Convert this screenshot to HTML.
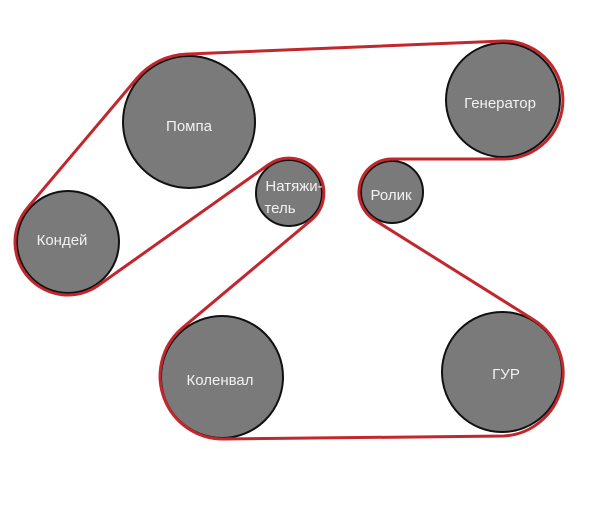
<!DOCTYPE html>
<html><head><meta charset="utf-8"><style>
html,body{margin:0;padding:0;background:#fff;}
svg{display:block;}
text{font-family:"Liberation Sans","DejaVu Sans",sans-serif;font-size:15px;fill:#f2f2f2;text-anchor:middle;}
</style></head><body>
<svg width="600" height="513" viewBox="0 0 600 513">
<g fill="#7a7a7a" stroke="#111" stroke-width="2">
<circle cx="189" cy="122" r="66"/>
<circle cx="503" cy="100" r="57"/>
<circle cx="68" cy="242" r="51"/>
<circle cx="289" cy="193" r="33"/>
<circle cx="392" cy="192" r="31"/>
<circle cx="222" cy="377" r="61"/>
<circle cx="502" cy="372" r="60"/>
</g>
<path d="M186.2,54.1 L500.6,41.1 A59 59 0 1 1 503,159 L392,159 A33 33 0 0 0 374.7,220.1 L534,320 A63 63 0 0 1 504,436 L224,439 A63 63 0 0 1 181.5,328.7 L311.5,219.8 A35 35 0 0 0 268.7,164.5 L98.7,285.2 A53 53 0 0 1 27.5,207.8 L137.1,78.1 A68 68 0 0 1 186.2,54.1 Z" fill="none" stroke="#c1272d" stroke-width="3" stroke-linejoin="round"/>
<text x="189" y="131">Помпа</text>
<text x="500" y="108">Генератор</text>
<text x="62" y="245">Кондей</text>
<text x="294" y="191">Натяжи-</text>
<text x="280" y="213">тель</text>
<text x="391" y="200">Ролик</text>
<text x="220" y="385">Коленвал</text>
<text x="506" y="379">ГУР</text>
</svg>
</body></html>
